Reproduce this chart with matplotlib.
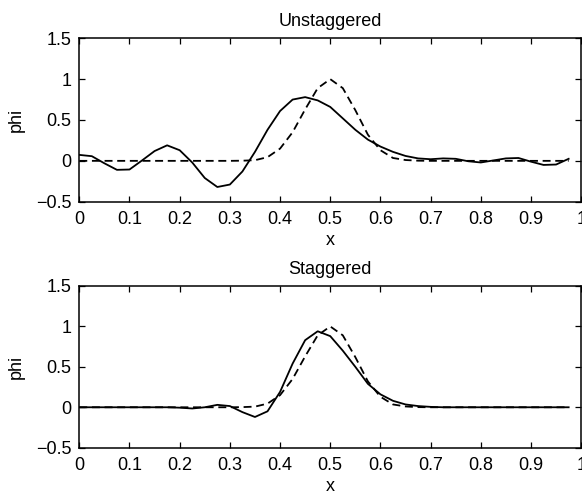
import numpy as np
import matplotlib
matplotlib.use("Agg")
import matplotlib.pyplot as plt
from matplotlib.ticker import FixedLocator, FuncFormatter

plt.rcParams['font.family'] = ['Liberation Sans', 'DejaVu Sans']

# grid points
x = [i * 0.025 for i in range(40)]

# exact solution (dashed), same in both panels
exact = [0, 0, 0, 0, 0, 0, 0, 0, 0, 0,
         0, 0, 0, 0.002, 0.008, 0.045, 0.15, 0.35, 0.63, 0.89,
         1.0, 0.89, 0.62, 0.32, 0.13, 0.035, 0.01, 0.002, 0, 0,
         0, 0, 0, 0, 0, 0, 0, 0, 0, 0]

unstaggered = [0.073, 0.057, -0.03, -0.11, -0.106, 0.005, 0.12, 0.19, 0.13, -0.02,
               -0.21, -0.32, -0.29, -0.13, 0.11, 0.38, 0.61, 0.75, 0.78, 0.74,
               0.66, 0.52, 0.38, 0.26, 0.175, 0.11, 0.06, 0.03, 0.02, 0.03,
               0.025, -0.005, -0.02, 0.005, 0.03, 0.035, -0.01, -0.05, -0.045, 0.025]

staggered = [0, 0, 0, 0, 0, 0, 0, 0, -0.005, -0.015,
             0.0, 0.03, 0.015, -0.06, -0.12, -0.05, 0.19, 0.54, 0.83, 0.94,
             0.88, 0.70, 0.50, 0.29, 0.16, 0.08, 0.035, 0.015, 0.005, 0,
             0, 0, 0, 0, 0, 0, 0, 0, 0, 0]

titles = ["Unstaggered", "Staggered"]
xticks = [0, 0.1, 0.2, 0.3, 0.4, 0.5, 0.6, 0.7, 0.8, 0.9, 1]
yticks = [-0.5, 0, 0.5, 1, 1.5]

W, H = 582, 492
fig = plt.figure(figsize=(W / 100, H / 100), dpi=100)

def fmt(v, pos):
    s = ("%g" % v)
    return s.replace("-", "\u2212")

boxes = [(79.3, 38.3, 581.2, 201.7), (79.3, 286.0, 581.2, 447.7)]
for (l, t, r, b), title, sol in zip(boxes, titles, [unstaggered, staggered]):
    ax = fig.add_axes([l / W, 1 - b / H, (r - l) / W, (b - t) / H])
    ax.plot(x, exact, color='black', lw=1.3, linestyle=(0, (4.4, 2.6)))
    ax.plot(x, sol, color='black', lw=1.3)
    ax.set_xlim(0, 1)
    ax.set_ylim(-0.5, 1.5)
    ax.xaxis.set_major_locator(FixedLocator(xticks))
    ax.yaxis.set_major_locator(FixedLocator(yticks))
    ax.xaxis.set_major_formatter(FuncFormatter(fmt))
    ax.yaxis.set_major_formatter(FuncFormatter(fmt))
    ax.tick_params(direction='in', top=True, right=True, length=4, width=0.9,
                   labelsize=13)
    ax.tick_params(axis='x', pad=7)
    ax.tick_params(axis='y', pad=5.5)
    for sp in ax.spines.values():
        sp.set_linewidth(1.1)
    ax.set_title(title, fontsize=13, pad=8.5)
    ax.set_xlabel("x", fontsize=13, labelpad=2.5)
    ax.set_ylabel("phi", fontsize=13, labelpad=8)

fig.savefig("out.png", dpi=100)
